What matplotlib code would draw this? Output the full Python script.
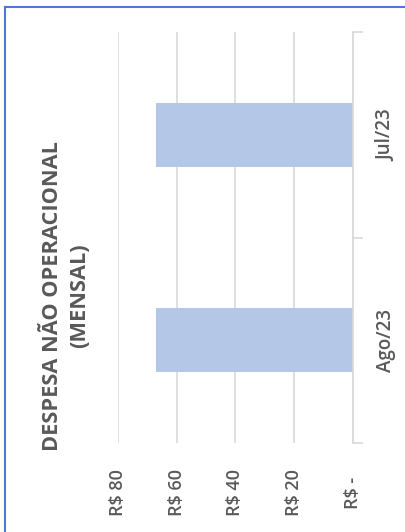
import matplotlib.pyplot as plt
from matplotlib.lines import Line2D
from matplotlib.ticker import FixedLocator

# data (chart is shown rotated 90 degrees)
categories = ["Ago/23", "Jul/23"]
values = [67, 67]
value_ticks = [0, 20, 40, 60, 80]
value_labels = ["R$ -", "R$ 20", "R$ 40", "R$ 60", "R$ 80"]
title = "DESPESA NÃO OPERACIONAL\n(MENSAL)"

TEXT = "#595959"
BAR = "#B4C7E7"
GRID = "#D9D9D9"
FRAME = "#4A7BD0"

plt.rcParams["font.family"] = ["Open Sans", "DejaVu Sans"]

W, H = 406, 532
fig = plt.figure(figsize=(W / 100, H / 100), dpi=100)
fig.patch.set_facecolor("white")

# plot area in pixels: x 118..353, y 32..443
ax = fig.add_axes([118 / W, (H - 443) / H, 235 / W, 411 / H])

pos = list(range(len(categories)))
ax.barh(pos, values, height=0.31, color=BAR, zorder=2)

ax.set_xlim(80, 0)
ax.set_ylim(-0.5, len(categories) - 0.5)

ax.set_xticks(value_ticks)
ax.set_xticklabels(value_labels, rotation=90, va="center", ha="center",
                   fontsize=13, fontweight="semibold", color=TEXT)
ax.tick_params(axis="x", length=0, pad=36)
ax.grid(axis="x", color=GRID, linewidth=1.2, zorder=0)

ax.yaxis.tick_right()
ax.set_yticks(pos)
ax.set_yticklabels(categories, rotation=90, va="center", ha="center",
                   fontsize=13.5, fontweight="semibold", color=TEXT)
ax.tick_params(axis="y", which="major", length=0, pad=24)
ax.yaxis.set_minor_locator(FixedLocator([-0.5, 0.5, 1.5]))
ax.tick_params(axis="y", which="minor", length=7, width=1.2, color=GRID,
               direction="out", right=True, left=False)

for s in ["top", "bottom", "left"]:
    ax.spines[s].set_visible(False)
ax.spines["right"].set_color(GRID)
ax.spines["right"].set_linewidth(1.2)

fig.text(66 / W, 1 - 296 / H, title, rotation=90, ha="center", va="center",
         fontsize=15.7, fontweight="bold", color=TEXT, linespacing=1.35,
         multialignment="center")

# frame of the chart box (only left and top edges visible)
fig.add_artist(Line2D([5 / W, 5 / W], [0, 1 - 7 / H], color=FRAME,
                      linewidth=1.5, transform=fig.transFigure))
fig.add_artist(Line2D([5 / W, 1], [1 - 7 / H, 1 - 7 / H], color=FRAME,
                      linewidth=1.5, transform=fig.transFigure))

fig.savefig("out.png", dpi=100)
